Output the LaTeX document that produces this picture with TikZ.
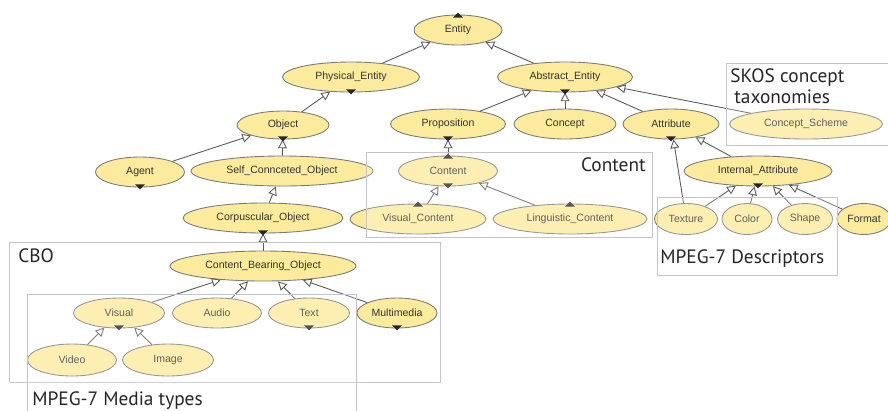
\documentclass[tikz,border=0pt]{standalone}
\usepackage{fontspec}
\setsansfont{Liberation Sans}
\newfontfamily\labelfont{PT Sans}
\usetikzlibrary{shapes.geometric,arrows.meta,calc}

\definecolor{clsfill}{HTML}{FCEB9C}
\definecolor{clsline}{HTML}{7A7A7A}
\definecolor{edgeline}{HTML}{5A5A5A}
\definecolor{boxline}{HTML}{C4C4CA}

\tikzset{
  cls/.style={ellipse, draw=clsline, fill=clsfill, inner sep=0pt, minimum height=0.6cm,
    text=black!80, font=\sffamily\fontsize{6}{7}\selectfont, line width=0.5pt},
  wd/.style={minimum width=#1*0.02cm},
  ht/.style={minimum height=#1*0.02cm},
  isa/.style={draw=edgeline, line width=0.5pt, -{Triangle[open, length=5pt, width=5pt]}},
  grp/.style={draw=boxline, line width=0.5pt, fill=white, fill opacity=0.22},
  grplabel/.style={anchor=base west, inner sep=0pt, font=\labelfont\fontsize{11}{13}\selectfont, text=black!85},
  marker/.style={fill=black!85},
}

\newcommand{\downmark}[1]{\fill[marker] ($(#1.south)+(-5,-3)$) -- ++(10,0) -- ++(-5,5) -- cycle;}
\newcommand{\upmark}[1]{\fill[marker] ($(#1.north)+(-5,3)$) -- ++(10,0) -- ++(-5,-5) -- cycle;}

\begin{document}
\begin{tikzpicture}[x=0.02cm, y=-0.02cm]
      \useasboundingbox (0, 0) rectangle (888, 410);
      \draw
        (458, 30) node[cls, wd=88] (entity){Entity}
        (351, 77) node[cls, wd=137] (physical){Physical\_Entity}
        (565, 77) node[cls, wd=135] (abstract){Abstract\_Entity}
        (283, 125) node[cls, wd=92, ht=28] (object){Object}
        (448, 124) node[cls, wd=115] (proposition){Proposition}
        (565, 124) node[cls, wd=102] (concept){Concept}
        (671, 124) node[cls, wd=96] (attribute){Attribute}
        (806, 124) node[cls, wd=153] (scheme){Concept\_Scheme}
        (140, 172) node[cls, wd=89] (agent){Agent}
        (282, 171) node[cls, wd=182] (selfconn){Self\_Connceted\_Object}
        (263, 218) node[cls, wd=160] (corpus){Corpuscular\_Object}
        (448, 171) node[cls, wd=99] (content){Content}
        (418, 219) node[cls, wd=136] (viscontent){Visual\_Content}
        (570, 219) node[cls, wd=154] (lingcontent){Linguistic\_Content}
        (758, 171) node[cls, wd=148] (internal){Internal\_Attribute}
        (686, 219) node[cls, wd=63, ht=31] (texture){Texture}
        (747, 219) node[cls, wd=50, ht=31] (color){Color}
        (805, 219) node[cls, wd=55, ht=31] (shape){Shape}
        (864, 219) node[cls, wd=54, ht=31] (format){Format}
        (263, 266) node[cls, wd=186] (cbo){Content\_Bearing\_Object}
        (119, 313) node[cls, wd=91] (visual){Visual}
        (217, 313) node[cls, wd=89] (audio){Audio}
        (309, 313) node[cls, wd=81] (text){Text}
        (397, 313) node[cls, wd=80] (multimedia){Multimedia}
        (72, 360) node[cls, wd=89, ht=32] (video){Video}
        (168, 360) node[cls, wd=91, ht=32] (image){Image};
      \begin{scope}[isa]
        \draw (physical) to (entity);
        \draw (abstract) to (entity);
        \draw (object) to (physical);
        \draw (agent) to (object);
        \draw (selfconn) to (object);
        \draw (corpus) to (selfconn);
        \draw (cbo) to (corpus);
        \draw (visual) to (cbo);
        \draw (audio) to (cbo);
        \draw (text) to (cbo);
        \draw (multimedia) to (cbo);
        \draw (video) to (visual);
        \draw (image) to (visual);
        \draw (proposition) to (abstract);
        \draw (concept) to (abstract);
        \draw (attribute) to (abstract);
        \draw (scheme) to (abstract);
        \draw (content) to (proposition);
        \draw (viscontent) to (content);
        \draw (lingcontent) to (content);
        \draw (internal) to (attribute);
        \draw (texture) to (attribute);
        \draw (texture) to (internal);
        \draw (color) to (internal);
        \draw (shape) to (internal);
        \draw (format) to (internal);
      \end{scope}
      \upmark{entity}
      \downmark{physical}
      \downmark{abstract}
      \downmark{object}
      \downmark{proposition}
      \downmark{attribute}
      \downmark{agent}
      \downmark{corpus}
      \upmark{content}
      \downmark{content}
      \upmark{viscontent}
      \upmark{lingcontent}
      \downmark{internal}
      \downmark{visual}
      \downmark{text}
      \downmark{multimedia}
      \draw[boxline, line width=0.5pt] (9, 242) rectangle (440, 382);
      \draw[grp] (27, 294) rectangle (356, 416);
      \draw[grp] (366, 152) rectangle (652, 237);
      \draw[grp] (657, 197) rectangle (837, 275);
      \draw[grp] (726, 63) rectangle (892, 145);
      \node[grplabel] (cbolabel) at (18, 262) {CBO};
      \node[grplabel] (medialabel) at (32, 405) {MPEG-7 Media types};
      \node[grplabel, anchor=base east] (contentlabel) at (646, 171) {Content};
      \node[grplabel] (desclabel) at (660, 263) {MPEG-7 Descriptors};
      \node[grplabel] (skoslabel) at (730, 82) {SKOS concept};
      \node[grplabel] (taxlabel) at (734, 103) {taxonomies};
    \end{tikzpicture}
\end{document}
